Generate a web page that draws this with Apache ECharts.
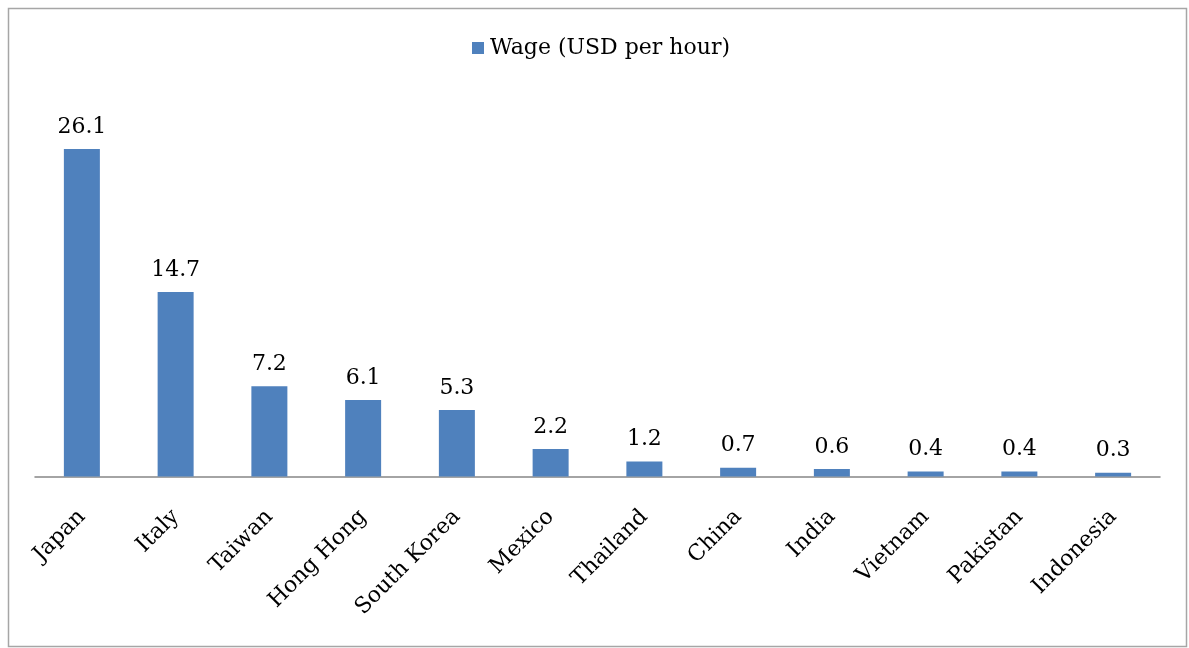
<!DOCTYPE html>
<html>
<head>
<meta charset="utf-8">
<script src="https://cdn.jsdelivr.net/npm/echarts@6/dist/echarts.min.js"></script>
<style>
  html, body { margin: 0; padding: 0; background: #ffffff; }
  #chart { width: 1189px; height: 648px; }
</style>
</head>
<body>
<div id="chart"></div>
<script>
// Hourly manufacturing wages by country
const countries = ['Japan', 'Italy', 'Taiwan', 'Hong Hong', 'South Korea', 'Mexico',
  'Thailand', 'China', 'India', 'Vietnam', 'Pakistan', 'Indonesia'];
const wages = [26.1, 14.7, 7.2, 6.1, 5.3, 2.2, 1.2, 0.7, 0.6, 0.4, 0.4, 0.3];
const seriesName = 'Wage (USD per hour)';

const serif = '"DejaVu Serif", "Liberation Serif", serif';

const chart = echarts.init(document.getElementById('chart'), null, { renderer: 'canvas' });
chart.setOption({
  animation: false,
  backgroundColor: '#ffffff',
  graphic: [{
    type: 'rect',
    shape: { x: 8.5, y: 8.5, width: 1178, height: 638 },
    style: { fill: 'none', stroke: '#a6a6a6', lineWidth: 1.5 },
    silent: true
  }],
  legend: {
    data: [seriesName],
    left: 467,
    top: 32,
    icon: 'rect',
    itemWidth: 12,
    itemHeight: 12,
    itemGap: 10,
    textStyle: { fontFamily: serif, fontSize: 22, color: '#000000', padding: [0, 0, 0, 1] }
  },
  grid: { left: 35, right: 29, top: 100, bottom: 171.5, containLabel: false },
  xAxis: {
    type: 'category',
    data: countries,
    axisLine: { lineStyle: { color: '#868686', width: 1.5 } },
    axisTick: { show: false },
    axisLabel: {
      rotate: 45,
      margin: 37,
      interval: 0,
      fontFamily: serif,
      fontSize: 22,
      color: '#000000'
    }
  },
  yAxis: {
    type: 'value',
    min: 0,
    max: 30,
    show: false,
    splitLine: { show: false }
  },
  series: [{
    name: seriesName,
    type: 'bar',
    data: wages,
    barWidth: 36,
    itemStyle: { color: '#4f81bd' },
    label: {
      show: true,
      position: 'top',
      distance: 11,
      fontFamily: serif,
      fontSize: 22,
      color: '#000000',
      formatter: p => p.value.toFixed(1)
    }
  }]
});
</script>
</body>
</html>
